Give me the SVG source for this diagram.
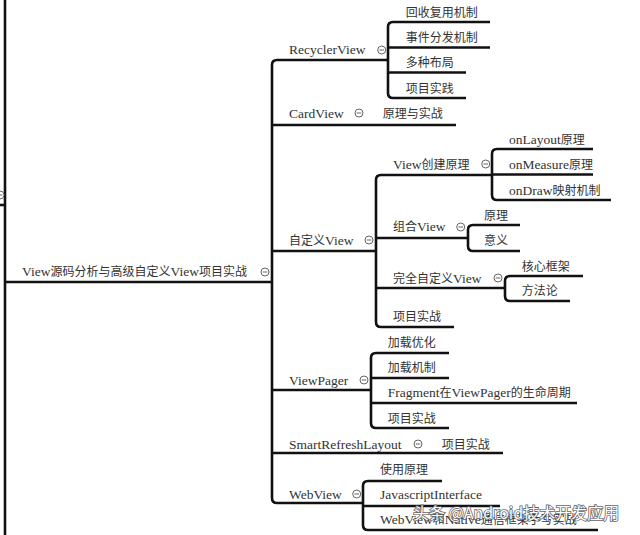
<svg xmlns="http://www.w3.org/2000/svg" width="640" height="535" viewBox="0 0 640 535">
<style>
.t{font-family:"Liberation Serif","Noto Sans CJK SC",serif;font-size:12px;fill:#333}
.e{font-size:13.5px}
.l{fill:none;stroke:#111;stroke-width:2.6;stroke-linecap:butt}
.c circle{fill:#fff;stroke:#666;stroke-width:1}
.c line{stroke:#666;stroke-width:1}
.wm{font-family:"Noto Sans CJK SC","Noto Sans",sans-serif;font-size:16px;fill:#fff;stroke:#555;stroke-width:1.6;paint-order:stroke;opacity:0.9}
</style>
<defs>
<g id="col" class="c"><circle cx="0" cy="0" r="4"/><line x1="-2.3" y1="0" x2="2.3" y2="0"/></g>
</defs>
<rect width="640" height="535" fill="#fff"/>
<g id="connectors">
<path class="l" d="M5 0 V535"/>
<path class="l" d="M0 205 H5"/>
<path class="l" d="M5 282 H272"/>
<path class="l" d="M388 60 H277 Q272 60 272 65 V498 Q272 503 277 503 H363"/>
<path class="l" d="M272 125 H456"/>
<path class="l" d="M272 251 H376"/>
<path class="l" d="M272 390 H371"/>
<path class="l" d="M272 453 H503"/>
<path class="l" d="M490 22 H393 Q388 22 388 27 V93 Q388 98 393 98 H466"/>
<path class="l" d="M388 47.5 H490 M388 72.5 H466"/>
<path class="l" d="M492 175 H381 Q376 175 376 180 V322 Q376 327 381 327 H454"/>
<path class="l" d="M376 238 H468 M376 288 H505"/>
<path class="l" d="M593 149 H497 Q492 149 492 154 V195 Q492 200 497 200 H611"/>
<path class="l" d="M492 174.5 H593"/>
<path class="l" d="M520 225 H473 Q468 225 468 230 V246 Q468 251 473 251 H520"/>
<path class="l" d="M583 276 H510 Q505 276 505 281 V296 Q505 301 510 301 H570"/>
<path class="l" d="M449 353 H376 Q371 353 371 358 V423 Q371 428 376 428 H449"/>
<path class="l" d="M371 378 H449 M371 403 H577"/>
<path class="l" d="M442 481 H368 Q363 481 363 486 V525 Q363 530 368 530 H598"/>
<path class="l" d="M363 506 H500"/>
</g>
<g id="collapse">
<use href="#col" x="0" y="195"/>
<use href="#col" x="265" y="272"/>
<use href="#col" x="381.7" y="50"/>
<use href="#col" x="359" y="113"/>
<use href="#col" x="485.7" y="164"/>
<use href="#col" x="369" y="240"/>
<use href="#col" x="460.7" y="227"/>
<use href="#col" x="498" y="278"/>
<use href="#col" x="364" y="380"/>
<use href="#col" x="418" y="444"/>
<use href="#col" x="356.7" y="494"/>
</g>
<g id="root"><text class="t" x="22" y="276"><tspan class="e">View</tspan>源码分析与高级自定义<tspan class="e">View</tspan>项目实战</text></g>
<g id="recyclerview"><text class="t e" x="289" y="54">RecyclerView</text></g>
<g id="rv1"><text class="t" x="405.7" y="17">回收复用机制</text></g>
<g id="rv2"><text class="t" x="405.7" y="42">事件分发机制</text></g>
<g id="rv3"><text class="t" x="405.7" y="67">多种布局</text></g>
<g id="rv4"><text class="t" x="405.7" y="93">项目实践</text></g>
<g id="cardview"><text class="t e" x="289" y="117.5">CardView</text></g>
<g id="cv1"><text class="t" x="382.7" y="117.5">原理与实战</text></g>
<g id="customview"><text class="t" x="289" y="244.5">自定义<tspan class="e">View</tspan></text></g>
<g id="create"><text class="t" x="393" y="168.5"><tspan class="e">View</tspan>创建原理</text></g>
<g id="onlayout"><text class="t" x="509" y="143.5"><tspan class="e">onLayout</tspan>原理</text></g>
<g id="onmeasure"><text class="t" x="509" y="168.5"><tspan class="e">onMeasure</tspan>原理</text></g>
<g id="ondraw"><text class="t" x="509" y="194.5"><tspan class="e">onDraw</tspan>映射机制</text></g>
<g id="combo"><text class="t" x="393" y="231">组合<tspan class="e">View</tspan></text></g>
<g id="combo1"><text class="t" x="484" y="219.5">原理</text></g>
<g id="combo2"><text class="t" x="484" y="245">意义</text></g>
<g id="full"><text class="t" x="393" y="282.5">完全自定义<tspan class="e">View</tspan></text></g>
<g id="full1"><text class="t" x="521.7" y="270.5">核心框架</text></g>
<g id="full2"><text class="t" x="521.7" y="295">方法论</text></g>
<g id="cvproj"><text class="t" x="393" y="321">项目实战</text></g>
<g id="viewpager"><text class="t e" x="289" y="384.5">ViewPager</text></g>
<g id="vp1"><text class="t" x="387.7" y="347">加载优化</text></g>
<g id="vp2"><text class="t" x="387.7" y="372">加载机制</text></g>
<g id="vp3"><text class="t" x="387.7" y="397"><tspan class="e">Fragment</tspan>在<tspan class="e">ViewPager</tspan>的生命周期</text></g>
<g id="vp4"><text class="t" x="387.7" y="422.5">项目实战</text></g>
<g id="smart"><text class="t e" x="289" y="448.5">SmartRefreshLayout</text></g>
<g id="smart1"><text class="t" x="441.7" y="448.5">项目实战</text></g>
<g id="webview"><text class="t e" x="289" y="498.5">WebView</text></g>
<g id="wv1"><text class="t" x="380" y="473.5">使用原理</text></g>
<g id="wv2"><text class="t e" x="380" y="498.5">JavascriptInterface</text></g>
<g id="wv3"><text class="t" x="380" y="523.5"><tspan class="e">WebView</tspan>和<tspan class="e">Native</tspan>通信框架手写实战</text></g>
<g id="watermark"><text class="wm" x="413" y="519">头条 @Android技术开发应用</text></g>
</svg>
